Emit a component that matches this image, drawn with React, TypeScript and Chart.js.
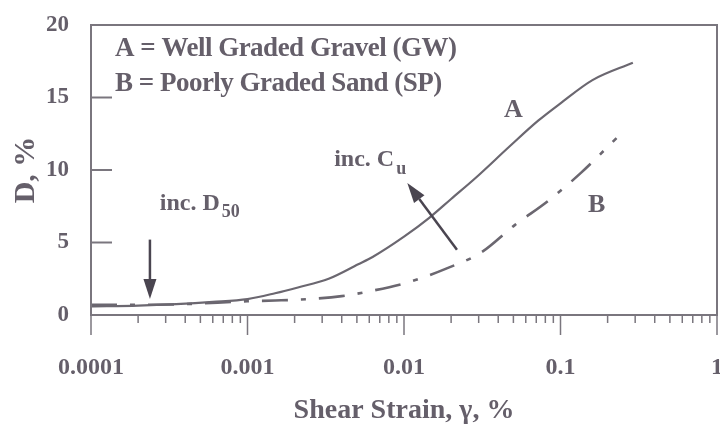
import React, { useEffect, useRef } from 'react';
import { Chart, registerables } from 'chart.js';

Chart.register(...registerables);

// Damping ratio D (%) versus shear strain (%) for two soils
const strainA = [0.0001, 0.0002, 0.00035, 0.0006, 0.001, 0.0015, 0.0021, 0.0033, 0.0051, 0.0063, 0.01, 0.0145, 0.02, 0.029, 0.047, 0.072, 0.1, 0.16, 0.29];
const dampingA = [0.6, 0.65, 0.75, 0.9, 1.1, 1.5, 1.9, 2.5, 3.5, 4.0, 5.4, 6.7, 8.0, 9.5, 11.6, 13.4, 14.6, 16.2, 17.4];

const strainB = [0.0001, 0.0002, 0.0004, 0.0008, 0.001, 0.0015, 0.0025, 0.004, 0.0058, 0.011, 0.0186, 0.031, 0.051, 0.084, 0.135, 0.228];
const dampingB = [0.7, 0.7, 0.75, 0.9, 0.95, 1.0, 1.1, 1.3, 1.6, 2.3, 3.2, 4.3, 6.2, 7.9, 9.8, 12.2];

const decadeValues = [0.0001, 0.001, 0.01, 0.1, 1];
const decadeLabels = ['0.0001', '0.001', '0.01', '0.1', '1'];
const yTickValues = [0, 5, 10, 15, 20];

const legendLines = ['A = Well Graded Gravel (GW)', 'B = Poorly Graded Sand (SP)'];

// Annotation anchors in data units (strain, damping)
const labelA = { x: 0.05, y: 14.1, text: 'A' };
const labelB = { x: 0.17, y: 7.6, text: 'B' };
const cuNote = { x: 0.00358, y: 10.7, text: 'inc. C', sub: 'u' };
const d50Note = { x: 0.000275, y: 7.7, text: 'inc. D', sub: '50' };
const cuArrow = { from: { x: 0.0218, y: 4.5 }, to: { x: 0.0105, y: 9.1 } };
const d50Arrow = { from: { x: 0.000238, y: 5.2 }, to: { x: 0.000238, y: 1.1 } };

const SERIF = '"Liberation Serif", "Times New Roman", serif';
const INK = '#655f6a';
const ARROW_INK = '#4a4550';
const LINE_INK = '#6b6770';
const AXIS_INK = '#7a767e';

const isDecade = (v: number) =>
  decadeValues.some((d) => Math.abs(Math.log10(v) - Math.log10(d)) < 1e-6);

function drawArrow(ctx: CanvasRenderingContext2D, x1: number, y1: number, x2: number, y2: number) {
  const ang = Math.atan2(y2 - y1, x2 - x1);
  const headLen = 20;
  const headHalf = 6.5;
  const bx = x2 - headLen * Math.cos(ang);
  const by = y2 - headLen * Math.sin(ang);
  ctx.beginPath();
  ctx.moveTo(x1, y1);
  ctx.lineTo(bx, by);
  ctx.stroke();
  ctx.beginPath();
  ctx.moveTo(x2, y2);
  ctx.lineTo(bx + headHalf * Math.sin(ang), by - headHalf * Math.cos(ang));
  ctx.lineTo(bx - headHalf * Math.sin(ang), by + headHalf * Math.cos(ang));
  ctx.closePath();
  ctx.fill();
}

function drawSubText(ctx: CanvasRenderingContext2D, x: number, y: number, text: string, sub: string, size: number) {
  ctx.font = `bold ${size}px ${SERIF}`;
  ctx.textAlign = 'left';
  ctx.textBaseline = 'middle';
  ctx.fillText(text, x, y);
  const w = ctx.measureText(text).width;
  ctx.font = `bold ${Math.round(size * 0.75)}px ${SERIF}`;
  ctx.fillText(sub, x + w + 2, y + size * 0.38);
}

const decorations = {
  id: 'decorations',
  afterDraw(chart: any) {
    const { ctx, chartArea } = chart;
    const xs = chart.scales.x;
    const ys = chart.scales.y;
    const { left, right, top, bottom } = chartArea;
    ctx.save();

    // plot frame
    ctx.strokeStyle = AXIS_INK;
    ctx.lineWidth = 2;
    ctx.strokeRect(left, top, right - left, bottom - top);

    // y ticks pointing into the plot
    yTickValues.forEach((v) => {
      const py = ys.getPixelForValue(v);
      ctx.beginPath();
      ctx.moveTo(left, py);
      ctx.lineTo(left + 21, py);
      ctx.stroke();
    });

    // log ticks below the x axis: 1..9 per decade
    ctx.lineWidth = 1.5;
    decadeValues.forEach((d, i) => {
      const steps = i < decadeValues.length - 1 ? [1, 2, 3, 4, 5, 6, 7, 8, 9] : [1];
      steps.forEach((k) => {
        const v = d * k;
        const px = xs.getPixelForValue(v);
        const len = isDecade(v) ? 20 : 8;
        ctx.beginPath();
        ctx.moveTo(px, bottom);
        ctx.lineTo(px, bottom + len);
        ctx.stroke();
      });
    });

    // legend text block
    ctx.fillStyle = INK;
    ctx.font = `bold 27px ${SERIF}`;
    ctx.textAlign = 'left';
    ctx.textBaseline = 'middle';
    try { (ctx as any).letterSpacing = '-0.5px'; } catch (e) { /* ignore */ }
    legendLines.forEach((line, i) => {
      ctx.fillText(line, left + 24, top + 24 + i * 35);
    });
    try { (ctx as any).letterSpacing = '0px'; } catch (e) { /* ignore */ }

    // curve labels
    ctx.font = `bold 26px ${SERIF}`;
    ctx.textAlign = 'center';
    [labelA, labelB].forEach((l) => {
      ctx.fillText(l.text, xs.getPixelForValue(l.x), ys.getPixelForValue(l.y));
    });

    // trend notes
    [cuNote, d50Note].forEach((n) => {
      drawSubText(ctx, xs.getPixelForValue(n.x), ys.getPixelForValue(n.y), n.text, n.sub, 24);
    });

    // arrows
    ctx.strokeStyle = ARROW_INK;
    ctx.fillStyle = ARROW_INK;
    ctx.lineWidth = 2.5;
    [cuArrow, d50Arrow].forEach((a) => {
      drawArrow(
        ctx,
        xs.getPixelForValue(a.from.x), ys.getPixelForValue(a.from.y),
        xs.getPixelForValue(a.to.x), ys.getPixelForValue(a.to.y)
      );
    });

    ctx.restore();
  },
};

export default function App() {
  const canvasRef = useRef<HTMLCanvasElement | null>(null);

  useEffect(() => {
    const canvas = canvasRef.current;
    if (!canvas) return;
    const chart = new Chart(canvas, {
      type: 'line',
      data: {
        datasets: [
          {
            label: 'A',
            data: strainA.map((x, i) => ({ x, y: dampingA[i] })),
            borderColor: LINE_INK,
            borderWidth: 2.2,
            pointRadius: 0,
            cubicInterpolationMode: 'monotone',
            fill: false,
          },
          {
            label: 'B',
            data: strainB.map((x, i) => ({ x, y: dampingB[i] })),
            borderColor: LINE_INK,
            borderWidth: 2.6,
            borderDash: [26, 13, 5, 13],
            pointRadius: 0,
            cubicInterpolationMode: 'monotone',
            fill: false,
          },
        ],
      },
      options: {
        responsive: false,
        animation: false,
        layout: { padding: { top: 25, left: 0, right: 0, bottom: 0 } },
        plugins: { legend: { display: false }, tooltip: { enabled: false } },
        scales: {
          x: {
            type: 'logarithmic',
            min: 0.0001,
            max: 1,
            grid: { display: false },
            border: { display: true, color: AXIS_INK, width: 2 },
            ticks: {
              autoSkip: false,
              maxRotation: 0,
              padding: 30,
              color: INK,
              font: { family: SERIF, size: 24, weight: 'bold' },
              callback: (value: any) => {
                const i = decadeValues.findIndex(
                  (d) => Math.abs(Math.log10(Number(value)) - Math.log10(d)) < 1e-6
                );
                return i >= 0 ? decadeLabels[i] : '';
              },
            },
            title: {
              display: true,
              text: 'Shear Strain, γ, %',
              color: INK,
              font: { family: SERIF, size: 28, weight: 'bold' },
              padding: { top: 0, bottom: 4 },
            },
            afterFit: (scale: any) => {
              scale.height = 117;
              scale.paddingLeft = 0;
              scale.paddingRight = 3;
            },
          },
          y: {
            min: 0,
            max: 20,
            grid: { display: false },
            border: { display: true, color: AXIS_INK, width: 2 },
            ticks: {
              stepSize: 5,
              padding: 14,
              color: INK,
              font: { family: SERIF, size: 23, weight: 'bold' },
            },
            title: {
              display: true,
              text: 'D, %',
              color: INK,
              font: { family: SERIF, size: 30, weight: 'bold' },
              padding: { top: 8, bottom: 0 },
            },
            afterFit: (scale: any) => {
              scale.width = 91;
              scale.paddingTop = 0;
              scale.paddingBottom = 0;
            },
          },
        },
      },
      plugins: [decorations],
    } as any);
    return () => chart.destroy();
  }, []);

  return (
    <div style={{ position: 'absolute', left: 0, top: 0, width: 720, height: 432, background: '#ffffff' }}>
      <canvas ref={canvasRef} width={720} height={432} />
    </div>
  );
}
